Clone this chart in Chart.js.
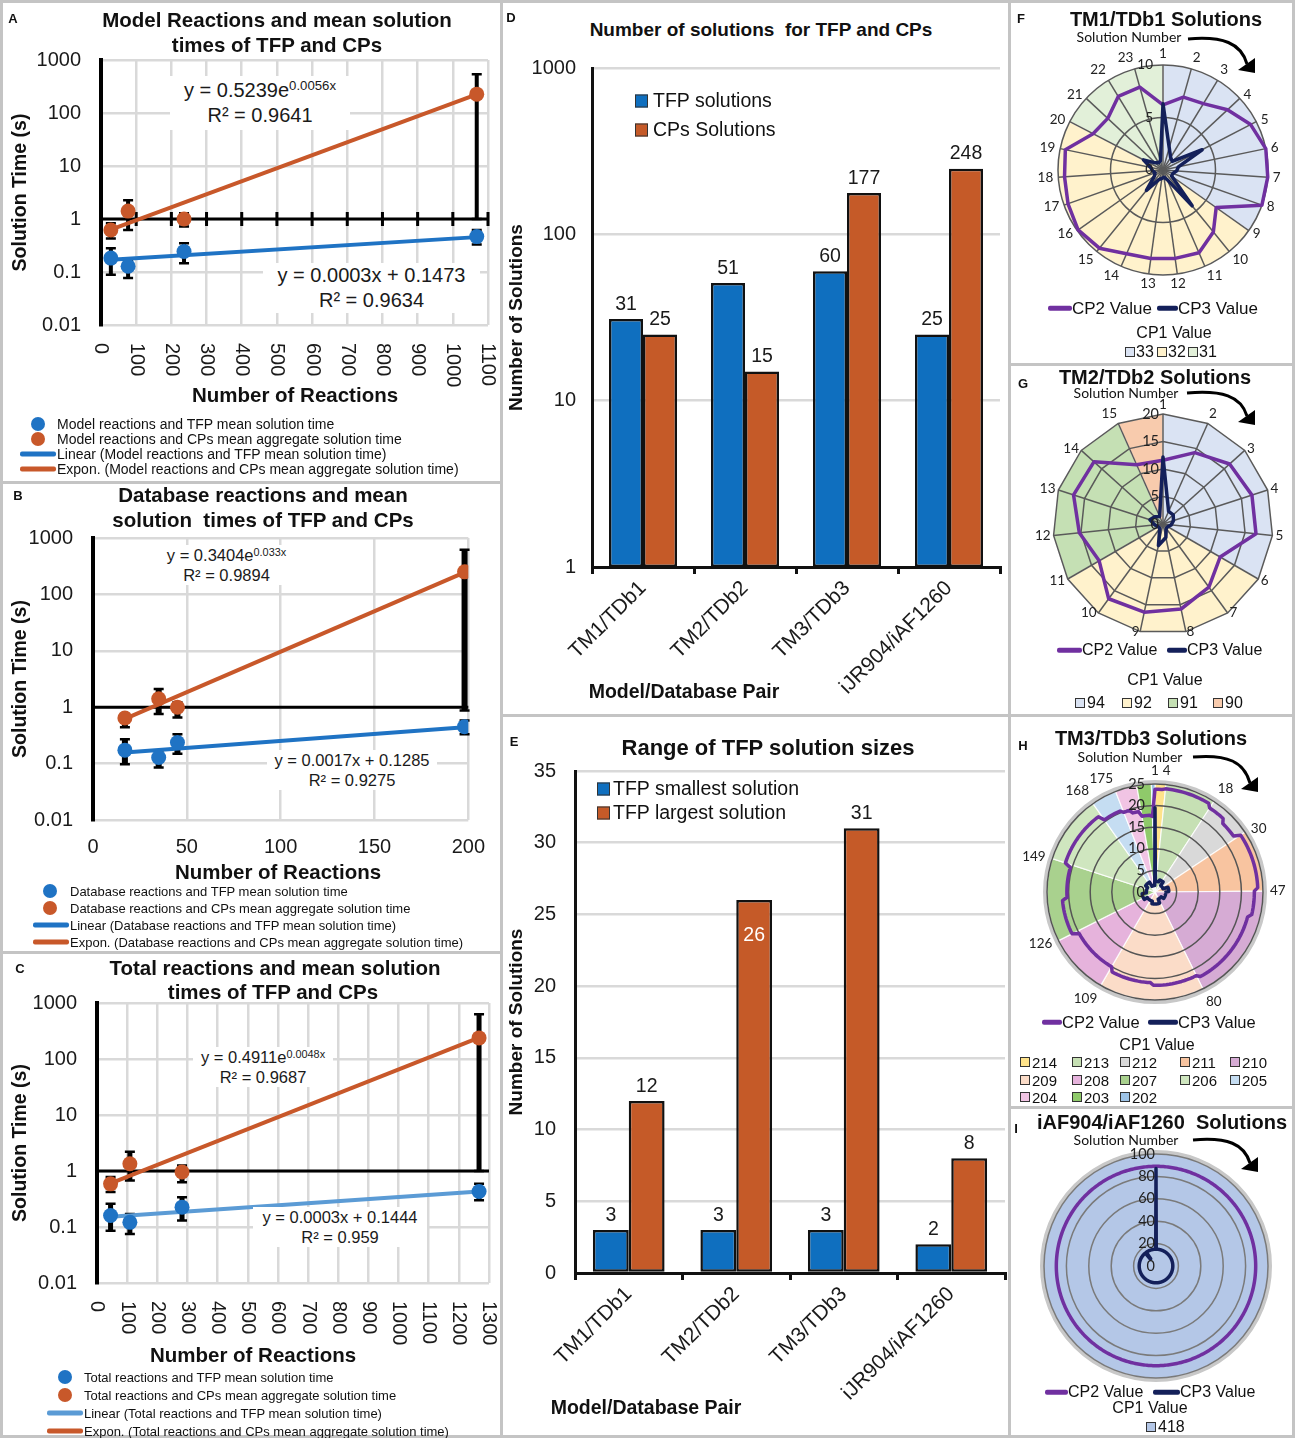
<!DOCTYPE html>
<html>
<head>
<meta charset="utf-8">
<title>TFP and CP solution summary</title>
<script src="https://cdn.jsdelivr.net/npm/chart.js@4.4.1/dist/chart.umd.min.js"></script>
<style>
  body { margin:0; width:1295px; height:1438px; position:relative; overflow:hidden; background:#fff;
         font-family:"Liberation Sans", Arial, sans-serif; color:#111; }
  .panel { position:absolute; border:3px solid #c4c4c4; box-sizing:border-box; }
  canvas { position:absolute; }
  .c, .l { position:absolute; white-space:nowrap; z-index:3; line-height:1; }
  .c { transform:translate(-50%,-50%); }
  .l { transform:translateY(-50%); }
  .let { font-weight:bold; font-size:13px; }
  .ttl { font-weight:bold; font-size:20.5px; }
  .eq { position:absolute; z-index:3; background:#fff; display:flex; flex-direction:column;
        align-items:center; justify-content:center; color:#1a1a1a; white-space:nowrap; }
  sup { font-size:0.66em; vertical-align:0.5em; line-height:0; }
  .dot { position:absolute; width:14px; height:14px; border-radius:50%; transform:translate(-50%,-50%); z-index:3; }
  .ln { position:absolute; height:5px; border-radius:2px; transform:translateY(-50%); z-index:3; }
  .sq { position:absolute; transform:translateY(-50%); border:1.5px solid #333; box-sizing:border-box; z-index:3; }
  .lato { font-family:Lato, "Liberation Sans", sans-serif; }
  svg { position:absolute; left:0; top:0; z-index:3; }
</style>
</head>
<body>

<!-- panel frames -->
<div class="panel" style="left:0;top:0;width:503px;height:484px"></div>
<div class="panel" style="left:0;top:481px;width:503px;height:473px"></div>
<div class="panel" style="left:0;top:951px;width:503px;height:487px"></div>
<div class="panel" style="left:500px;top:0;width:511px;height:717px"></div>
<div class="panel" style="left:500px;top:714px;width:511px;height:724px"></div>
<div class="panel" style="left:1008px;top:0;width:287px;height:366px"></div>
<div class="panel" style="left:1008px;top:363px;width:287px;height:354px"></div>
<div class="panel" style="left:1008px;top:714px;width:287px;height:395px"></div>
<div class="panel" style="left:1008px;top:1106px;width:287px;height:332px"></div>

<canvas id="chartA" style="left:3px;top:3px" width="497" height="400"></canvas>
<canvas id="chartB" style="left:3px;top:483px" width="497" height="380"></canvas>
<canvas id="chartC" style="left:3px;top:953px" width="497" height="410"></canvas>
<canvas id="chartD" style="left:503px;top:40px" width="505" height="672"></canvas>
<canvas id="chartE" style="left:503px;top:740px" width="505" height="690"></canvas>
<canvas id="chartF" style="left:1018px;top:25px" width="290" height="290"></canvas>
<canvas id="chartG" style="left:1013px;top:374px" width="300" height="300"></canvas>
<canvas id="chartH" style="left:1007px;top:744px" width="296" height="296"></canvas>
<canvas id="chartI" style="left:1004px;top:1114px" width="304" height="304"></canvas>

<!-- A -->
<div class="c let" style="left:13px;top:18px">A</div>
<div class="c ttl" style="left:277px;top:20px">Model Reactions and mean solution</div>
<div class="c ttl" style="left:277px;top:45px">times of TFP and CPs</div>
<div class="eq" style="left:170px;top:76px;width:180px;height:54px;font-size:20px;line-height:25px">
  <div>y = 0.5239e<sup>0.0056x</sup></div><div>R² = 0.9641</div></div>
<div class="eq" style="left:263px;top:263px;width:217px;height:50px;font-size:20px;line-height:25px">
  <div>y = 0.0003x + 0.1473</div><div>R² = 0.9634</div></div>
<div class="c ttl" style="left:295px;top:395px">Number of Reactions</div>
<div class="dot" style="left:38px;top:424px;background:#1f73c4"></div>
<div class="l" style="left:57px;top:424px;font-size:14px">Model reactions and TFP mean solution time</div>
<div class="dot" style="left:38px;top:439px;background:#c8582a"></div>
<div class="l" style="left:57px;top:439px;font-size:14px">Model reactions and CPs mean aggregate solution time</div>
<div class="ln" style="left:20px;top:454px;width:36px;background:#1f73c4"></div>
<div class="l" style="left:57px;top:454px;font-size:14px">Linear (Model reactions and TFP mean solution time)</div>
<div class="ln" style="left:20px;top:469px;width:36px;background:#c8582a"></div>
<div class="l" style="left:57px;top:469px;font-size:14px">Expon. (Model reactions and CPs mean aggregate solution time)</div>

<!-- B -->
<div class="c let" style="left:18px;top:495px">B</div>
<div class="c ttl" style="left:263px;top:495px">Database reactions and mean</div>
<div class="c ttl" style="left:263px;top:520px">solution&nbsp; times of TFP and CPs</div>
<div class="eq" style="left:160px;top:545px;width:133px;height:40px;font-size:16.5px;line-height:20px">
  <div>y = 0.3404e<sup>0.033x</sup></div><div>R² = 0.9894</div></div>
<div class="eq" style="left:267px;top:750px;width:170px;height:40px;font-size:16.5px;line-height:20px">
  <div>y = 0.0017x + 0.1285</div><div>R² = 0.9275</div></div>
<div class="c ttl" style="left:278px;top:872px">Number of Reactions</div>
<div class="dot" style="left:50px;top:891px;background:#1f73c4"></div>
<div class="l" style="left:70px;top:891px;font-size:13px">Database reactions and TFP mean solution time</div>
<div class="dot" style="left:50px;top:908px;background:#c8582a"></div>
<div class="l" style="left:70px;top:908px;font-size:13px">Database reactions and CPs mean aggregate solution time</div>
<div class="ln" style="left:33px;top:925px;width:36px;background:#1f73c4"></div>
<div class="l" style="left:70px;top:925px;font-size:13px">Linear (Database reactions and TFP mean solution time)</div>
<div class="ln" style="left:33px;top:942px;width:36px;background:#c8582a"></div>
<div class="l" style="left:70px;top:942px;font-size:13px">Expon. (Database reactions and CPs mean aggregate solution time)</div>

<!-- C -->
<div class="c let" style="left:20px;top:968px">C</div>
<div class="c ttl" style="left:275px;top:968px">Total reactions and mean solution</div>
<div class="c ttl" style="left:273px;top:992px">times of TFP and CPs</div>
<div class="eq" style="left:193px;top:1047px;width:140px;height:40px;font-size:16.5px;line-height:20px">
  <div>y = 0.4911e<sup>0.0048x</sup></div><div>R² = 0.9687</div></div>
<div class="eq" style="left:253px;top:1207px;width:174px;height:40px;font-size:16.5px;line-height:20px">
  <div>y = 0.0003x + 0.1444</div><div>R² = 0.959</div></div>
<div class="c ttl" style="left:253px;top:1355px">Number of Reactions</div>
<div class="dot" style="left:65px;top:1377px;background:#1f73c4"></div>
<div class="l" style="left:84px;top:1377px;font-size:13px">Total reactions and TFP mean solution time</div>
<div class="dot" style="left:65px;top:1395px;background:#c8582a"></div>
<div class="l" style="left:84px;top:1395px;font-size:13px">Total reactions and CPs mean aggregate solution time</div>
<div class="ln" style="left:47px;top:1413px;width:36px;background:#5b9bd5"></div>
<div class="l" style="left:84px;top:1413px;font-size:13px">Linear (Total reactions and TFP mean solution time)</div>
<div class="ln" style="left:47px;top:1431px;width:36px;background:#c8582a"></div>
<div class="l" style="left:84px;top:1431px;font-size:13px">Expon. (Total reactions and CPs mean aggregate solution time)</div>

<!-- D -->
<div class="c let" style="left:511px;top:17px">D</div>
<div class="c" style="left:761px;top:29px;font-weight:bold;font-size:19px">Number of solutions&nbsp; for TFP and CPs</div>
<div class="sq" style="left:635px;top:101px;width:13px;height:13px;background:#0f6fbf"></div>
<div class="l" style="left:653px;top:101px;font-size:19.5px">TFP solutions</div>
<div class="sq" style="left:635px;top:130px;width:13px;height:13px;background:#c55a28"></div>
<div class="l" style="left:653px;top:130px;font-size:19.5px">CPs Solutions</div>
<div class="c" style="left:684px;top:692px;font-weight:bold;font-size:19.5px">Model/Database Pair</div>

<!-- E -->
<div class="c let" style="left:514px;top:741px">E</div>
<div class="c" style="left:768px;top:748px;font-weight:bold;font-size:22px">Range of TFP solution sizes</div>
<div class="sq" style="left:597px;top:789px;width:13px;height:13px;background:#0f6fbf"></div>
<div class="l" style="left:613px;top:789px;font-size:19.5px">TFP smallest solution</div>
<div class="sq" style="left:597px;top:813px;width:13px;height:13px;background:#c55a28"></div>
<div class="l" style="left:613px;top:813px;font-size:19.5px">TFP largest solution</div>
<div class="c" style="left:646px;top:1408px;font-weight:bold;font-size:19.5px">Model/Database Pair</div>

<!-- F -->
<div class="c let" style="left:1021px;top:18px">F</div>
<div class="c" style="left:1166px;top:19px;font-weight:bold;font-size:20px">TM1/TDb1 Solutions</div>
<div class="c lato" style="left:1129px;top:37px;font-size:14px">Solution Number</div>
<div class="ln" style="left:1048px;top:308px;width:24px;height:4.5px;background:#7030a0"></div>
<div class="l" style="left:1072px;top:308px;font-size:17px">CP2 Value</div>
<div class="ln" style="left:1157px;top:308px;width:21px;height:4.5px;background:#14205a"></div>
<div class="l" style="left:1178px;top:308px;font-size:17px">CP3 Value</div>
<div class="c" style="left:1174px;top:333px;font-size:16px">CP1 Value</div>
<div class="sq" style="left:1125px;top:352px;width:10px;height:10px;border-width:1px;background:#dae3f3"></div>
<div class="l" style="left:1136px;top:352px;font-size:16px">33</div>
<div class="sq" style="left:1157px;top:352px;width:10px;height:10px;border-width:1px;background:#fff2cc"></div>
<div class="l" style="left:1168px;top:352px;font-size:16px">32</div>
<div class="sq" style="left:1188px;top:352px;width:10px;height:10px;border-width:1px;background:#e2f0d9"></div>
<div class="l" style="left:1199px;top:352px;font-size:16px">31</div>

<!-- G -->
<div class="c let" style="left:1023px;top:383px">G</div>
<div class="c" style="left:1155px;top:377px;font-weight:bold;font-size:20px">TM2/TDb2 Solutions</div>
<div class="c lato" style="left:1126px;top:393px;font-size:14px">Solution Number</div>
<div class="ln" style="left:1057px;top:650px;width:25px;height:4.5px;background:#7030a0"></div>
<div class="l" style="left:1082px;top:650px;font-size:16px">CP2 Value</div>
<div class="ln" style="left:1167px;top:650px;width:20px;height:4.5px;background:#14205a"></div>
<div class="l" style="left:1187px;top:650px;font-size:16px">CP3 Value</div>
<div class="c" style="left:1165px;top:680px;font-size:16px">CP1 Value</div>
<div class="sq" style="left:1075px;top:703px;width:10px;height:10px;border-width:1px;background:#dae3f3"></div>
<div class="l" style="left:1087px;top:703px;font-size:16px">94</div>
<div class="sq" style="left:1122px;top:703px;width:10px;height:10px;border-width:1px;background:#fff2cc"></div>
<div class="l" style="left:1134px;top:703px;font-size:16px">92</div>
<div class="sq" style="left:1168px;top:703px;width:10px;height:10px;border-width:1px;background:#c5e0b4"></div>
<div class="l" style="left:1180px;top:703px;font-size:16px">91</div>
<div class="sq" style="left:1213px;top:703px;width:10px;height:10px;border-width:1px;background:#f8cbad"></div>
<div class="l" style="left:1225px;top:703px;font-size:16px">90</div>

<!-- H -->
<div class="c let" style="left:1023px;top:745px">H</div>
<div class="c" style="left:1151px;top:738px;font-weight:bold;font-size:20px">TM3/TDb3 Solutions</div>
<div class="c lato" style="left:1130px;top:757px;font-size:14px">Solution Number</div>
<div class="ln" style="left:1042px;top:1022px;width:20px;height:4.5px;background:#7030a0"></div>
<div class="l" style="left:1062px;top:1022px;font-size:16.5px">CP2 Value</div>
<div class="ln" style="left:1148px;top:1022px;width:30px;height:4.5px;background:#14205a"></div>
<div class="l" style="left:1178px;top:1022px;font-size:16.5px">CP3 Value</div>
<div class="c" style="left:1157px;top:1045px;font-size:16px">CP1 Value</div>
<div id="legendH"></div>

<!-- I -->
<div class="c let" style="left:1016px;top:1128px">I</div>
<div class="c" style="left:1162px;top:1122px;font-weight:bold;font-size:20px">iAF904/iAF1260&nbsp; Solutions</div>
<div class="c lato" style="left:1126px;top:1140px;font-size:14px">Solution Number</div>
<div class="ln" style="left:1045px;top:1392px;width:23px;height:4.5px;background:#7030a0"></div>
<div class="l" style="left:1068px;top:1392px;font-size:16px">CP2 Value</div>
<div class="ln" style="left:1153px;top:1392px;width:27px;height:4.5px;background:#14205a"></div>
<div class="l" style="left:1180px;top:1392px;font-size:16px">CP3 Value</div>
<div class="c" style="left:1150px;top:1408px;font-size:16px">CP1 Value</div>
<div class="sq" style="left:1146px;top:1427px;width:10px;height:10px;border-width:1px;background:#b4c7e7"></div>
<div class="l" style="left:1158px;top:1427px;font-size:16px">418</div>

<!-- "Solution Number" arrows -->
<svg width="1295" height="1438">
  <g fill="none" stroke="#000" stroke-width="3">
    <path d="M1188,39 C1223,36 1241,43 1247,64"/>
    <path d="M1187,393 C1222,390 1241,396 1247,416"/>
    <path d="M1193,757 C1228,754 1244,762 1250,783"/>
    <path d="M1193,1140 C1228,1137 1244,1144 1250,1163"/>
  </g>
  <g fill="#000">
    <polygon points="1255,73 1238,70 1255,58"/>
    <polygon points="1255,425 1238,422 1255,410"/>
    <polygon points="1258,792 1241,789 1258,777"/>
    <polygon points="1258,1172 1241,1169 1258,1157"/>
  </g>
</svg>

<script>
/* ---------------- Data ---------------- */

const TIME_TICKS = [0.01, 0.1, 1, 10, 100, 1000];

// A: model reactions
const modelRxns = [28, 77, 236, 1068];
const modelTfpTime = [0.183, 0.128, 0.244, 0.466];
const modelTfpLow = [0.089, 0.077, 0.147, 0.33];
const modelTfpHigh = [0.28, 0.17, 0.35, 0.62];
const modelCpTime = [0.622, 1.41, 1.0, 227];
const modelCpLow = [0.43, 0.62, 0.72, 1];
const modelCpHigh = [0.83, 2.27, 1.28, 540];
const modelLinFit = [0.17, 0.455];
const modelExpFit = [0.63, 225];

// B: database reactions
const dbRxns = [17, 35, 45, 198];
const dbTfpTime = [0.173, 0.128, 0.237, 0.452];
const dbTfpLow = [0.097, 0.085, 0.15, 0.33];
const dbTfpHigh = [0.27, 0.17, 0.33, 0.58];
const dbCpTime = [0.645, 1.41, 1.0, 251];
const dbCpLow = [0.44, 0.76, 0.66, 0.87];
const dbCpHigh = [0.76, 2.1, 1.23, 620];
const dbLinFit = [0.157, 0.44];
const dbExpFit = [0.62, 245];

// C: total reactions
const totalRxns = [45, 109, 282, 1267];
const totalTfpTime = [0.16, 0.121, 0.226, 0.43];
const totalTfpLow = [0.086, 0.075, 0.13, 0.3];
const totalTfpHigh = [0.26, 0.17, 0.34, 0.59];
const totalCpTime = [0.59, 1.35, 0.96, 238];
const totalCpLow = [0.42, 0.68, 0.63, 1];
const totalCpHigh = [0.78, 2.2, 1.26, 630];
const totalLinFit = [0.152, 0.43];
const totalExpFit = [0.6, 240];

// D and E
const pairs = ['TM1/TDb1', 'TM2/TDb2', 'TM3/TDb3', 'iJR904/iAF1260'];
const tfpSolutions = [31, 51, 60, 25];
const cpSolutions = [25, 15, 177, 248];
const SOLUTION_TICKS = [1, 10, 100, 1000];
const tfpSmallest = [3, 3, 3, 2];
const tfpLargest = [12, 26, 31, 8];

// F: TM1/TDb1
const fCp2 = [6.2, 7.2, 7.4, 8.4, 9.4, 10, 10, 10, 6.2, 7.6, 8.6, 8.5, 8.5, 8.7, 9.6, 9.9, 9.6, 9.4, 9.5, 7.5, 7.2, 8.2, 8.2];
const fCp3 = [6.3, 2.2, 1.4, 1.2, 4.2, 1.5, 1.3, 1.0, 1.0, 4.4, 1.0, 0.7, 0.8, 1.0, 2.5, 1.0, 0.8, 1.0, 1.2, 2.1, 1.0, 0.8, 0.9];
const fCp1Values = ['33', '32', '31'];
const fCp1Counts = [8, 11, 4];

// G: TM2/TDb2
const gCp2 = [11.6, 14.2, 16.3, 17, 17, 12, 14.2, 15.8, 16.4, 16.8, 13.4, 15.3, 17.1, 16.9, 11.8];
const gCp3 = [12.2, 2.5, 2.5, 2.0, 1.5, 1.0, 1.0, 2.5, 4.0, 1.0, 1.0, 1.5, 2.5, 2.0, 1.5];
const gCp1Values = ['94', '92', '91', '90'];
const gCp1Counts = [5, 5, 4, 1];

// H: TM3/TDb3 (step series as [value, number of solutions])
const hCp2Runs = [[23.8, 3], [24.0, 14], [23.2, 6], [22.3, 6], [23.8, 17], [23.0, 8], [22.2, 25],
                  [21.6, 15], [21.0, 14], [20.0, 17], [21.5, 12], [20.4, 11], [21.8, 19], [20.4, 7],
                  [19.8, 3], [19.0, 3], [17.8, 4], [17.5, 1]];
const hCp3Runs = [[19.5, 1], [2.5, 10], [3.0, 10], [2.0, 15], [3.2, 10], [2.5, 20], [1.8, 15],
                  [2.8, 20], [2.2, 20], [3.0, 15], [2.0, 20], [2.6, 15], [1.5, 14]];
const hCp1Values = ['214', '213', '212', '211', '210', '209', '208', '207', '206', '205', '204', '203', '202'];
const hCp1Counts = [3, 14, 12, 17, 33, 29, 17, 23, 19, 7, 6, 4, 1];
const hShownLabels = [1, 4, 18, 30, 47, 80, 109, 126, 149, 168, 175];

// I: iAF904/iAF1260
const iCp2Runs = [[89, 418]];
const iCp3Runs = [[87, 1], [15, 372], [8, 4], [15, 41]];
const iCp1Values = ['418'];
const iCp1Counts = [418];

/* ---------------- Styles ---------------- */

const PT_BLUE = '#1f73c4';
const PT_ORANGE = '#c8582a';
const BAR_BLUE = '#0f6fbf';
const BAR_ORANGE = '#c55a28';
const PURPLE = '#7030a0';
const NAVY = '#14205a';
const GRID = '#d9d9d9';
const F_COLORS = ['#dae3f3', '#fff2cc', '#e2f0d9'];
const G_COLORS = ['#dae3f3', '#fff2cc', '#c5e0b4', '#f8cbad'];
const H_COLORS = ['#ffe38a', '#c6e0b4', '#d9d9d9', '#f8c4a0', '#d6abd4', '#fbdcc8', '#e6b3dc',
                  '#a9d18e', '#cfe6bf', '#c5ddf2', '#f1c4e4', '#8fca6a', '#9dc3e6'];
const I_COLORS = ['#b4c7e7'];

Chart.defaults.font.family = "'Liberation Sans', Arial, sans-serif";
Chart.defaults.color = '#1a1a1a';

function fromRuns(runs) {
    const out = [];
    runs.forEach(([v, n]) => { for (let k = 0; k < n; k++) out.push(v); });
    return out;
}

/* ---------------- Plugins ---------------- */

const unitLine = {
    id: 'unitLine',
    beforeDatasetsDraw(chart, args, o) {
        const { ctx, chartArea: a, scales: { x, y } } = chart;
        const py = y.getPixelForValue(1);
        ctx.save();
        ctx.strokeStyle = '#000';
        ctx.lineWidth = 3;
        ctx.beginPath();
        ctx.moveTo(a.left, py);
        ctx.lineTo(a.right, py);
        if (o.ticks) {
            x.ticks.forEach(t => {
                const px = x.getPixelForValue(t.value);
                ctx.moveTo(px, py - 7);
                ctx.lineTo(px, py + 7);
            });
        }
        ctx.stroke();
        ctx.restore();
    }
};

const errorBars = {
    id: 'errorBars',
    beforeDatasetsDraw(chart, args, o) {
        const { ctx, scales: { x, y } } = chart;
        ctx.save();
        ctx.strokeStyle = '#000';
        chart.data.datasets.forEach(ds => {
            if (!ds.errLow) return;
            ds.data.forEach((pt, i) => {
                const px = x.getPixelForValue(pt.x);
                const top = y.getPixelForValue(ds.errHigh[i]);
                const bot = y.getPixelForValue(ds.errLow[i]);
                ctx.lineWidth = o.width;
                ctx.beginPath();
                ctx.moveTo(px, top);
                ctx.lineTo(px, bot);
                ctx.stroke();
                ctx.lineWidth = 2.5;
                ctx.beginPath();
                ctx.moveTo(px - o.cap, top); ctx.lineTo(px + o.cap, top);
                ctx.moveTo(px - o.cap, bot); ctx.lineTo(px + o.cap, bot);
                ctx.stroke();
            });
        });
        ctx.restore();
    }
};

// x labels turned clockwise, as in panels A and C
const sideTicks = {
    id: 'sideTicks',
    afterDraw(chart, args, o) {
        if (!o.on) return;
        const { ctx, chartArea, scales: { x } } = chart;
        ctx.save();
        ctx.font = "20px 'Liberation Sans', Arial, sans-serif";
        ctx.fillStyle = '#1a1a1a';
        ctx.textAlign = 'left';
        ctx.textBaseline = 'middle';
        x.ticks.forEach(t => {
            ctx.save();
            ctx.translate(x.getPixelForValue(t.value), chartArea.bottom + o.gap);
            ctx.rotate(Math.PI / 2);
            ctx.fillText(String(t.value), 0, 0);
            ctx.restore();
        });
        ctx.restore();
    }
};

const barLabels = {
    id: 'barLabels',
    afterDatasetsDraw(chart, args, o) {
        const { ctx } = chart;
        const inside = o.inside || [];
        ctx.save();
        ctx.font = "19.5px 'Liberation Sans', Arial, sans-serif";
        ctx.textAlign = 'center';
        chart.data.datasets.forEach((ds, di) => {
            chart.getDatasetMeta(di).data.forEach((bar, i) => {
                const isIn = inside.some(([d, k]) => d === di && k === i);
                ctx.fillStyle = isIn ? '#fff' : '#1a1a1a';
                ctx.textBaseline = isIn ? 'top' : 'bottom';
                ctx.fillText(String(ds.data[i]), bar.x, isIn ? bar.y + 26 : bar.y - 5);
            });
        });
        ctx.restore();
    }
};

const radarDecor = {
    id: 'radarDecor',
    beforeDraw(chart, args, o) {
        const r = chart.scales.r, ctx = chart.ctx;
        const n = chart.data.labels.length, R = r.drawingArea, step = 2 * Math.PI / n;
        let start = 0;
        ctx.save();
        if (o.rim) {
            ctx.beginPath();
            ctx.arc(r.xCenter, r.yCenter, R + 2, 0, 2 * Math.PI);
            ctx.strokeStyle = o.rim;
            ctx.lineWidth = 4;
            ctx.stroke();
        }
        o.counts.forEach((cnt, k) => {
            ctx.beginPath();
            ctx.moveTo(r.xCenter, r.yCenter);
            if (o.polygon) {
                for (let i = start; i <= start + cnt; i++) {
                    const p = r.getPointPosition(i % n, R);
                    ctx.lineTo(p.x, p.y);
                }
            } else {
                const a0 = r.getIndexAngle(start) - Math.PI / 2;
                ctx.arc(r.xCenter, r.yCenter, R, a0, a0 + cnt * step);
            }
            ctx.closePath();
            ctx.fillStyle = o.colors[k];
            ctx.fill();
            if (o.counts.length > 1) {
                ctx.strokeStyle = 'rgba(255,255,255,0.85)';
                ctx.lineWidth = 1.2;
                ctx.stroke();
            }
            start += cnt;
        });
        ctx.restore();
    },
    afterDatasetsDraw(chart, args, o) {
        const r = chart.scales.r, ctx = chart.ctx, R = r.drawingArea;
        ctx.save();
        ctx.fillStyle = '#222';
        ctx.font = o.tickFont;
        ctx.textAlign = 'right';
        ctx.textBaseline = 'middle';
        r.ticks.forEach(t => {
            ctx.fillText(String(t.value), r.xCenter + o.tickDx, r.yCenter - r.getDistanceFromCenterForValue(t.value));
        });
        ctx.font = o.labelFont;
        chart.data.labels.forEach((lab, i) => {
            if (!lab) return;
            const a = r.getIndexAngle(i);
            const p = r.getPointPosition(i, R + o.labelGap);
            const s = Math.sin(a), c = Math.cos(a);
            ctx.textAlign = Math.abs(s) < 0.2 ? 'center' : (s > 0 ? 'left' : 'right');
            ctx.textBaseline = c > 0.75 ? 'bottom' : (c < -0.75 ? 'top' : 'middle');
            ctx.fillText(lab, p.x, c < -0.75 ? p.y - o.bottomPull : p.y);
        });
        ctx.restore();
    }
};

/* ---------------- Solution time charts ---------------- */

function timeChart(id, p) {
    const last = p.x.length - 1;
    return new Chart(document.getElementById(id), {
        type: 'scatter',
        data: {
            datasets: [
                { data: p.x.map((x, i) => ({ x, y: p.tfp[i] })), errLow: p.tfpLow, errHigh: p.tfpHigh,
                  backgroundColor: PT_BLUE, borderWidth: 0, pointRadius: 7.5 },
                { data: p.x.map((x, i) => ({ x, y: p.cp[i] })), errLow: p.cpLow, errHigh: p.cpHigh,
                  backgroundColor: PT_ORANGE, borderWidth: 0, pointRadius: 7.5 },
                { type: 'line', data: [{ x: p.x[0], y: p.lin[0] }, { x: p.x[last], y: p.lin[1] }],
                  borderColor: p.linColor, borderWidth: 4, pointRadius: 0, fill: false },
                { type: 'line', data: [{ x: p.x[0], y: p.exp[0] }, { x: p.x[last], y: p.exp[1] }],
                  borderColor: PT_ORANGE, borderWidth: 4, pointRadius: 0, fill: false }
            ]
        },
        options: {
            responsive: false,
            animation: false,
            events: [],
            layout: { padding: p.pad },
            plugins: {
                legend: { display: false },
                tooltip: { enabled: false },
                unitLine: { ticks: p.unitTicks },
                errorBars: { width: p.errWidth, cap: 5 },
                sideTicks: { on: p.sideways, gap: 18 }
            },
            scales: {
                x: {
                    type: 'linear', min: 0, max: p.xMax,
                    ticks: { stepSize: p.xStep, display: !p.sideways, font: { size: 20 }, padding: 15, maxRotation: 0, autoSkip: false },
                    grid: { color: GRID, lineWidth: 2.5, drawTicks: false },
                    border: { display: false },
                    afterFit: s => { s.height = p.xH; }
                },
                y: {
                    type: 'logarithmic', min: 0.01, max: 1000,
                    afterBuildTicks: s => { s.ticks = TIME_TICKS.map(v => ({ value: v })); },
                    ticks: { callback: v => String(v), font: { size: 20 }, padding: 20, autoSkip: false },
                    grid: { color: GRID, lineWidth: 2.5, drawTicks: false },
                    border: { color: '#000', width: 4 },
                    title: { display: true, text: 'Solution Time (s)', font: { size: 19.5, weight: 'bold' },
                             color: '#111', padding: { top: 4, bottom: 4 } },
                    afterFit: s => { s.width = p.yW; }
                }
            }
        },
        plugins: [unitLine, errorBars, sideTicks]
    });
}

timeChart('chartA', {
    x: modelRxns, tfp: modelTfpTime, tfpLow: modelTfpLow, tfpHigh: modelTfpHigh,
    cp: modelCpTime, cpLow: modelCpLow, cpHigh: modelCpHigh,
    lin: modelLinFit, exp: modelExpFit, linColor: PT_BLUE,
    xMax: 1100, xStep: 100, sideways: true, unitTicks: true, errWidth: 4,
    pad: { left: 2, top: 57, right: 12, bottom: 0 }, yW: 96, xH: 78
});

timeChart('chartB', {
    x: dbRxns, tfp: dbTfpTime, tfpLow: dbTfpLow, tfpHigh: dbTfpHigh,
    cp: dbCpTime, cpLow: dbCpLow, cpHigh: dbCpHigh,
    lin: dbLinFit, exp: dbExpFit, linColor: PT_BLUE,
    xMax: 200, xStep: 50, sideways: false, unitTicks: false, errWidth: 6,
    pad: { left: 2, top: 55, right: 22, bottom: 0 }, yW: 88, xH: 43
});

timeChart('chartC', {
    x: totalRxns, tfp: totalTfpTime, tfpLow: totalTfpLow, tfpHigh: totalTfpHigh,
    cp: totalCpTime, cpLow: totalCpLow, cpHigh: totalCpHigh,
    lin: totalLinFit, exp: totalExpFit, linColor: '#5b9bd5',
    xMax: 1300, xStep: 100, sideways: true, unitTicks: false, errWidth: 5,
    pad: { left: 2, top: 50, right: 11, bottom: 0 }, yW: 92, xH: 80
});

/* ---------------- Bar charts ---------------- */

function barChart(id, p) {
    const yScale = p.log
        ? { type: 'logarithmic', min: 1, max: 1000,
            afterBuildTicks: s => { s.ticks = SOLUTION_TICKS.map(v => ({ value: v })); },
            ticks: { callback: v => String(v), font: { size: 20 }, padding: 16, autoSkip: false } }
        : { type: 'linear', min: 0, max: 35,
            ticks: { stepSize: 5, font: { size: 20 }, padding: 19 } };
    Object.assign(yScale, {
        grid: { color: GRID, lineWidth: 2.5, drawTicks: false },
        border: { color: '#111', width: 3 },
        title: { display: true, text: 'Number of Solutions', color: '#111',
                 font: { size: 19, weight: 'bold', family: "'Liberation Sans Narrow', 'Liberation Sans', Arial, sans-serif" },
                 padding: { top: 0, bottom: 4 } },
        afterFit: s => { s.width = p.yW; }
    });
    return new Chart(document.getElementById(id), {
        type: 'bar',
        data: {
            labels: pairs,
            datasets: [
                { data: p.first, backgroundColor: BAR_BLUE, borderColor: '#111', borderWidth: 2.5, borderSkipped: false },
                { data: p.second, backgroundColor: BAR_ORANGE, borderColor: '#111', borderWidth: 2.5, borderSkipped: false }
            ]
        },
        options: {
            responsive: false,
            animation: false,
            events: [],
            layout: { padding: p.pad },
            datasets: { bar: { categoryPercentage: 0.667, barPercentage: 1 } },
            plugins: {
                legend: { display: false },
                tooltip: { enabled: false },
                barLabels: { inside: p.inside }
            },
            scales: {
                x: {
                    grid: { offset: true, drawOnChartArea: false, drawTicks: true, tickLength: 7, color: '#111', lineWidth: 3 },
                    border: { color: '#111', width: 3 },
                    ticks: { font: { size: 21 }, minRotation: 45, maxRotation: 45, autoSkip: false, padding: 2 },
                    afterFit: s => { s.height = p.xH; }
                },
                y: yScale
            }
        },
        plugins: [barLabels]
    });
}

barChart('chartD', {
    first: tfpSolutions, second: cpSolutions, log: true, inside: [],
    pad: { left: 2, top: 27, right: 8, bottom: 0 }, yW: 87, xH: 145
});

barChart('chartE', {
    first: tfpSmallest, second: tfpLargest, log: false, inside: [[1, 1]],
    pad: { left: 2, top: 27, right: 3, bottom: 0 }, yW: 70, xH: 157
});

/* ---------------- Radar charts ---------------- */

function radarChart(id, p) {
    return new Chart(document.getElementById(id), {
        type: 'radar',
        data: {
            labels: p.labels,
            datasets: [
                { data: p.cp3, borderColor: NAVY, borderWidth: 3.5, pointRadius: 0, fill: false, borderJoinStyle: 'round' },
                { data: p.cp2, borderColor: PURPLE, borderWidth: 3.5, pointRadius: 0, fill: false, borderJoinStyle: 'round' }
            ]
        },
        options: {
            responsive: false,
            animation: false,
            events: [],
            layout: { padding: 40 },
            plugins: {
                legend: { display: false },
                tooltip: { enabled: false },
                radarDecor: {
                    counts: p.counts, colors: p.colors, polygon: !p.circular, rim: p.rim,
                    tickFont: p.tickFont, tickDx: p.tickDx, bottomPull: p.bottomPull,
                    labelFont: "13.5px Lato, 'Liberation Sans', sans-serif", labelGap: p.labelGap
                }
            },
            scales: {
                r: {
                    min: 0, max: p.max,
                    ticks: { stepSize: p.step, display: false },
                    pointLabels: { display: false },
                    grid: { circular: p.circular, color: p.gridColor, lineWidth: 1.5 },
                    angleLines: { display: p.spokes, color: p.gridColor, lineWidth: 1.5 }
                }
            }
        },
        plugins: [radarDecor]
    });
}

radarChart('chartF', {
    labels: fCp2.map((v, i) => String(i + 1)), cp2: fCp2, cp3: fCp3,
    counts: fCp1Counts, colors: F_COLORS, circular: true, spokes: true, rim: null,
    max: 10, step: 5, gridColor: '#5a5a5a', tickFont: "13.5px Lato, sans-serif", tickDx: -10, labelGap: 5, bottomPull: 2
});

radarChart('chartG', {
    labels: gCp2.map((v, i) => String(i + 1)), cp2: gCp2, cp3: gCp3,
    counts: gCp1Counts, colors: G_COLORS, circular: false, spokes: true, rim: null,
    max: 20, step: 5, gridColor: '#5a5a5a', tickFont: "14.5px Lato, sans-serif", tickDx: -4, labelGap: 3, bottomPull: 10
});

const hCp2 = fromRuns(hCp2Runs);
radarChart('chartH', {
    labels: hCp2.map((v, i) => (hShownLabels.includes(i + 1) ? String(i + 1) : '')),
    cp2: hCp2, cp3: fromRuns(hCp3Runs),
    counts: hCp1Counts, colors: H_COLORS, circular: true, spokes: false, rim: '#c8c8c8',
    max: 25, step: 5, gridColor: '#555', tickFont: "14.5px Lato, sans-serif", tickDx: -10, labelGap: 7, bottomPull: 0
});

const iCp2 = fromRuns(iCp2Runs);
radarChart('chartI', {
    labels: iCp2.map(() => ''), cp2: iCp2, cp3: fromRuns(iCp3Runs),
    counts: iCp1Counts, colors: I_COLORS, circular: true, spokes: false, rim: '#c8c8c8',
    max: 100, step: 20, gridColor: '#7a7a7a', tickFont: "14.5px Lato, sans-serif", tickDx: -1, labelGap: 6, bottomPull: 0
});

/* ---------------- H legend ---------------- */

const hLegendX = [1020, 1072, 1120, 1180, 1230];
const hLegendY = [1062, 1080, 1097];
document.getElementById('legendH').innerHTML = hCp1Values.map((v, k) => {
    const x = hLegendX[k % 5], y = hLegendY[Math.floor(k / 5)];
    return `<div class="sq" style="left:${x}px;top:${y}px;width:10px;height:10px;border-width:1px;background:${H_COLORS[k]}"></div>` +
           `<div class="l" style="left:${x + 12}px;top:${y}px;font-size:15px">${v}</div>`;
}).join('');
</script>
</body>
</html>
